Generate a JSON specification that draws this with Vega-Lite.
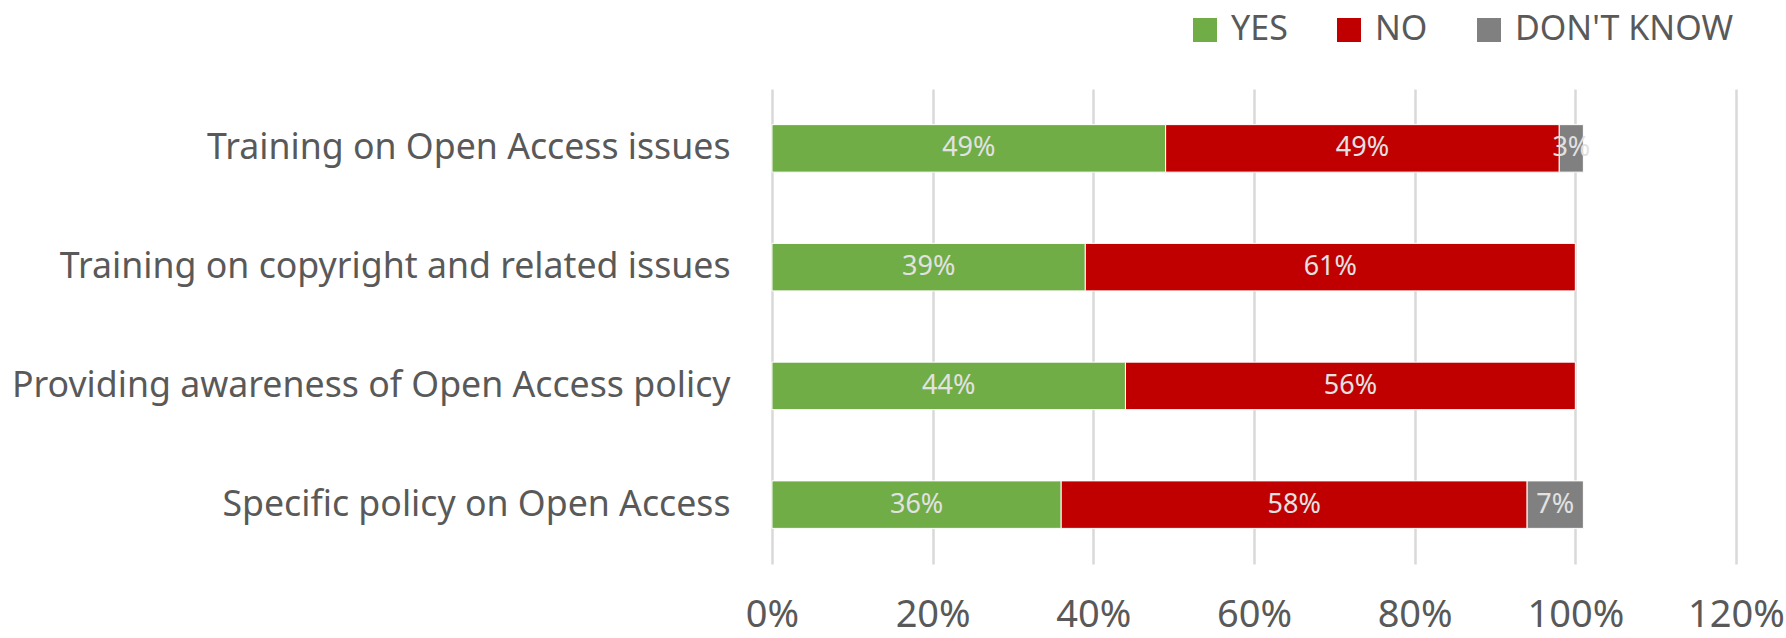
{
  "$schema": "https://vega.github.io/schema/vega-lite/v6.json",
  "autosize": {"type": "none"},
  "padding": {"left": 772, "top": 89, "right": 50, "bottom": 74},
  "width": 964,
  "height": 475,
  "background": "white",
  "config": {
    "view": {"stroke": null},
    "font": "Noto Sans"
  },
  "data": {
    "values": [
      {"q": "Training on Open Access issues", "a": "YES", "k": 1, "v": 49},
      {"q": "Training on Open Access issues", "a": "NO", "k": 2, "v": 49},
      {"q": "Training on Open Access issues", "a": "DON'T KNOW", "k": 3, "v": 3},
      {"q": "Training on copyright and related issues", "a": "YES", "k": 1, "v": 39},
      {"q": "Training on copyright and related issues", "a": "NO", "k": 2, "v": 61},
      {"q": "Providing awareness of Open Access policy", "a": "YES", "k": 1, "v": 44},
      {"q": "Providing awareness of Open Access policy", "a": "NO", "k": 2, "v": 56},
      {"q": "Specific policy on Open Access", "a": "YES", "k": 1, "v": 36},
      {"q": "Specific policy on Open Access", "a": "NO", "k": 2, "v": 58},
      {"q": "Specific policy on Open Access", "a": "DON'T KNOW", "k": 3, "v": 7}
    ]
  },
  "transform": [
    {"stack": "v", "groupby": ["q"], "sort": [{"field": "k", "order": "ascending"}], "as": ["x0", "x1"]},
    {"calculate": "(datum.x0 + datum.x1) / 2", "as": "xm"},
    {"calculate": "datum.v + '%'", "as": "lab"}
  ],
  "encoding": {
    "y": {
      "field": "q", "type": "nominal", "sort": null,
      "scale": {"paddingInner": 0.6, "paddingOuter": 0.3},
      "axis": {
        "title": null, "domain": false, "ticks": false,
        "labelFontSize": 35.7, "labelColor": "#595959", "labelPadding": 42,
        "labelLimit": 1000, "minExtent": 760, "maxExtent": 760
      }
    }
  },
  "layer": [
    {
      "mark": {"type": "bar", "stroke": "white", "strokeWidth": 1},
      "encoding": {
        "x": {
          "field": "x0", "type": "quantitative",
          "scale": {"domain": [0, 120], "nice": false},
          "axis": {
            "title": null, "values": [0, 20, 40, 60, 80, 100, 120],
            "labelExpr": "datum.value + '%'",
            "domain": false, "ticks": false, "labelFlush": false,
            "grid": true, "gridColor": "#d9d9d9", "gridWidth": 2.5,
            "labelFontSize": 38, "labelColor": "#595959", "labelPadding": 32
          }
        },
        "x2": {"field": "x1"},
        "color": {
          "field": "a", "type": "nominal",
          "scale": {"domain": ["YES", "NO", "DON'T KNOW"], "range": ["#70AD47", "#C00000", "#808080"]},
          "legend": {
            "title": null, "orient": "none", "direction": "horizontal",
            "legendX": 416, "legendY": -76,
            "symbolType": "square", "symbolSize": 576, "symbolStrokeWidth": 0,
            "labelFontSize": 34, "labelColor": "#595959", "labelOffset": 9,
            "labelLimit": 400, "columnPadding": 44, "padding": 0
          }
        }
      }
    },
    {
      "mark": {"type": "text", "fontSize": 27, "color": "#e2e2e2"},
      "encoding": {
        "x": {"field": "xm", "type": "quantitative"},
        "text": {"field": "lab", "type": "nominal"}
      }
    }
  ]
}
